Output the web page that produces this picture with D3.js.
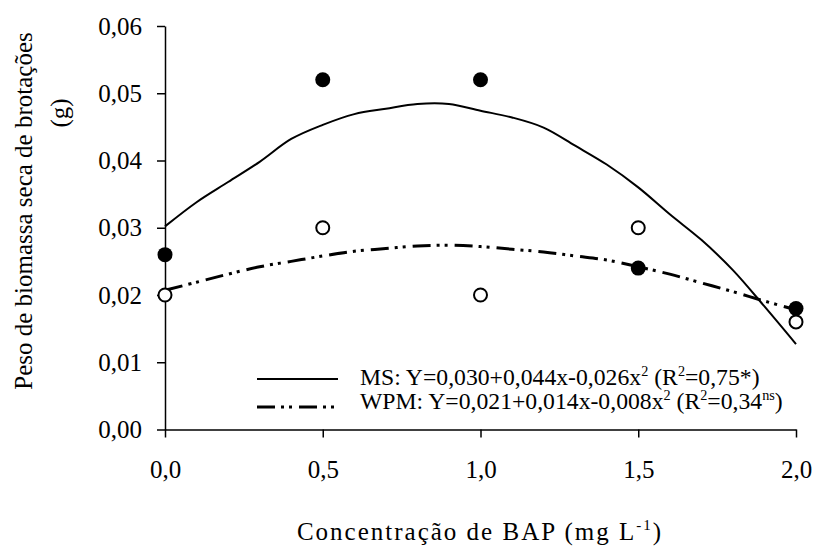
<!DOCTYPE html>
<html>
<head>
<meta charset="utf-8">
<script src="https://cdn.jsdelivr.net/npm/d3@7"></script>
<style>
  html, body { margin: 0; padding: 0; background: #fff; }
  svg { display: block; }
  text { font-family: "Liberation Serif", "Times New Roman", serif; fill: #000; }
</style>
</head>
<body>
<svg id="chart" width="814" height="548"></svg>
<script>
// BAP concentration vs dry shoot biomass, MS and WPM media

const doses = [0, 0.5, 1.0, 1.5, 2.0];
const msObserved = [0.026, 0.052, 0.052, 0.024, 0.018];
const wpmObserved = [0.020, 0.030, 0.020, 0.030, 0.016];

// fitted curves, every 0.1
const curveX = [0, 0.1, 0.2, 0.3, 0.4, 0.5, 0.6, 0.7, 0.8, 0.9, 1.0,
                1.1, 1.2, 1.3, 1.4, 1.5, 1.6, 1.7, 1.8, 1.9, 2.0];
const msFit = [0.0302, 0.0338, 0.0368, 0.0398, 0.0432, 0.0453, 0.0469, 0.0477, 0.0484, 0.0484, 0.0474,
               0.0464, 0.0449, 0.0422, 0.0394, 0.0360, 0.0320, 0.0282, 0.0237, 0.0183, 0.0127];
const wpmFit = [0.0207, 0.0219, 0.0231, 0.0242, 0.0250, 0.0258, 0.0265, 0.0269, 0.0273, 0.0274, 0.0272,
                0.0268, 0.0264, 0.0258, 0.0252, 0.0242, 0.0231, 0.0218, 0.0205, 0.0191, 0.0178];

const xTicks = [0, 0.5, 1.0, 1.5, 2.0];
const yTicks = [0, 0.01, 0.02, 0.03, 0.04, 0.05, 0.06];

const svg = d3.select('#chart');
const x = d3.scaleLinear().domain([0, 2]).range([165, 796]);
const y = d3.scaleLinear().domain([0, 0.06]).range([429.5, 26]);

const br = d3.formatLocale({ decimal: ',', thousands: '.', grouping: [3], currency: ['', ''] });

const yAxis = svg.append('g')
  .attr('transform', `translate(${x(0)},0)`)
  .call(d3.axisLeft(y).tickValues(yTicks).tickFormat(br.format('.2f'))
    .tickSize(8).tickSizeOuter(0).tickPadding(15));

const xAxis = svg.append('g')
  .attr('transform', `translate(0,${y(0)})`)
  .call(d3.axisBottom(x).tickValues(xTicks).tickFormat(br.format('.1f'))
    .tickSize(8).tickSizeOuter(0).tickPadding(23));

[yAxis, xAxis].forEach(a => {
  a.selectAll('path, line').attr('stroke', '#000').attr('stroke-width', 1.5);
  a.selectAll('text').style('font-family', '"Liberation Serif", serif').style('font-size', '25px');
});

// fitted lines
const pts = ys => curveX.map((v, i) => [v, ys[i]]);
const line = d3.line().x(d => x(d[0])).y(d => y(d[1])).curve(d3.curveCatmullRom);

svg.append('path')
  .attr('d', line(pts(msFit)))
  .attr('fill', 'none').attr('stroke', '#000').attr('stroke-width', 2);

svg.append('path')
  .attr('d', line(pts(wpmFit)))
  .attr('fill', 'none').attr('stroke', '#000').attr('stroke-width', 3)
  .attr('stroke-dasharray', '18,6,3,5,3,7');

// observed points
svg.append('g').selectAll('circle')
  .data(doses)
  .join('circle')
    .attr('cx', d => x(d))
    .attr('cy', (d, i) => y(msObserved[i]))
    .attr('r', 7.5)
    .attr('fill', '#000');

svg.append('g').selectAll('circle')
  .data(doses)
  .join('circle')
    .attr('cx', d => x(d))
    .attr('cy', (d, i) => y(wpmObserved[i]))
    .attr('r', 6.5)
    .attr('fill', '#fff')
    .attr('stroke', '#000')
    .attr('stroke-width', 2);

// legend
const legend = svg.append('g');
legend.append('line')
  .attr('x1', 257).attr('x2', 338).attr('y1', 379).attr('y2', 379)
  .attr('stroke', '#000').attr('stroke-width', 2);
legend.append('line')
  .attr('x1', 257).attr('x2', 338).attr('y1', 407).attr('y2', 407)
  .attr('stroke', '#000').attr('stroke-width', 3)
  .attr('stroke-dasharray', '18,6,3,5,3,7');

// parts: plain strings, or ['^', text] for a superscript
function supText(g, xPos, yPos, parts, size){
  const t = g.append('text').attr('x', xPos).attr('y', yPos).style('font-size', size + 'px');
  let back = 0;
  parts.forEach(p => {
    if (Array.isArray(p)) {
      t.append('tspan').attr('dy', back - size * 0.4).style('font-size', (size * 0.6) + 'px').text(p[1]);
      back = size * 0.4;
    } else {
      t.append('tspan').attr('dy', back).style('font-size', size + 'px').text(p);
      back = 0;
    }
  });
  return t;
}

supText(legend, 360, 385, ['MS: Y=0,030+0,044x-0,026x', ['^', '2'], ' (R', ['^', '2'], '=0,75*)'], 23.7);
supText(legend, 360, 409, ['WPM: Y=0,021+0,014x-0,008x', ['^', '2'], ' (R', ['^', '2'], '=0,34', ['^', 'ns'], ')'], 23.7);

// axis titles
supText(svg, 480, 540, ['Concentração de BAP (mg L', ['^', '-1'], ')'], 25)
  .attr('text-anchor', 'middle')
  .style('letter-spacing', '2px');

svg.append('text')
  .attr('transform', 'translate(32,211) rotate(-90)')
  .attr('text-anchor', 'middle')
  .style('font-size', '25px')
  .text('Peso de biomassa seca de brotações');
svg.append('text')
  .attr('transform', 'translate(68,113) rotate(-90)')
  .attr('text-anchor', 'middle')
  .style('font-size', '25px')
  .text('(g)');
</script>
</body>
</html>
